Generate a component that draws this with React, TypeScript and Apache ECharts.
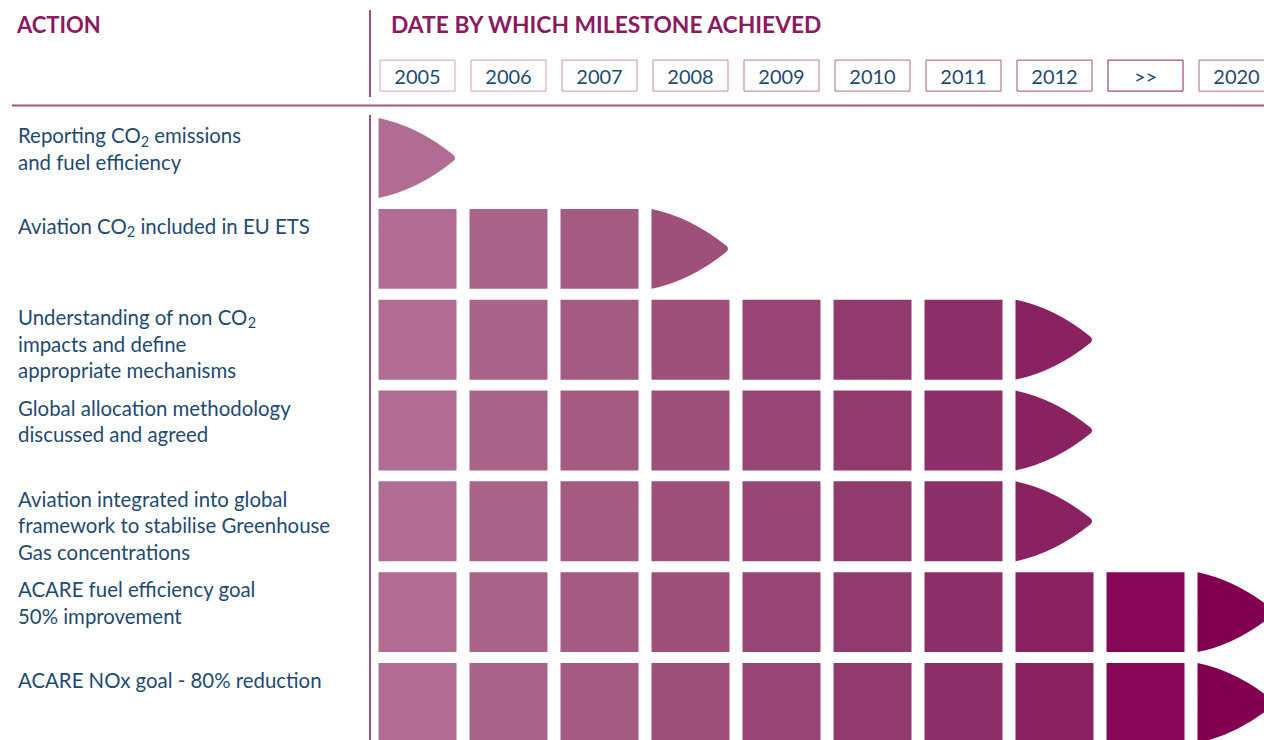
import React, { useEffect, useRef } from 'react';
import * as echarts from 'echarts';

const years = ['2005', '2006', '2007', '2008', '2009', '2010', '2011', '2012', '>>', '2020'];
const actions = [
  'Reporting CO{s|2} emissions\nand fuel efficiency',
  'Aviation CO{s|2} included in EU ETS',
  'Understanding of non CO{s|2}\nimpacts and define\nappropriate mechanisms',
  'Global allocation methodology\ndiscussed and agreed',
  'Aviation integrated into global\nframework to stabilise Greenhouse\nGas concentrations',
  'ACARE fuel efficiency goal\n50% improvement',
  'ACARE NOx goal - 80% reduction',
];
const achievedBy = ['2005', '2008', '2012', '2012', '2012', '2020', '2020'];
const cellColors = ['#B06C93', '#AA6389', '#A55A82', '#9E4F7A', '#974575', '#913A6E', '#8D2F68', '#8A2160', '#860657', '#820050'];
const boxBorders = ['#D4A2C2', '#D09BBD', '#CB93B7', '#C588AF', '#BD7AA6', '#B56B9C', '#AC5C91', '#A34C86', '#8C1C5E', '#B4629A'];

const textColor = '#1E4A74';
const headColor = '#8C1A5F';
const lineColor = '#A4507F';
const FONT = 'Lato';

export default function App() {
  const ref = useRef<HTMLDivElement>(null);
  useEffect(() => {
    const chart = echarts.init(ref.current!, null, { renderer: 'svg' });
    const cells: number[][] = [];
    achievedBy.forEach((y, row) => {
      const end = years.indexOf(y);
      for (let c = 0; c <= end; c++) cells.push([c, row, c === end ? 1 : 0]);
    });
    const option: any = {
      animation: false,
      title: [
        { text: 'ACTION', left: 17, top: 13, padding: 0, textStyle: { fontFamily: FONT, fontWeight: 'bold', fontSize: 22, color: headColor } },
        { text: 'DATE BY WHICH MILESTONE ACHIEVED', left: 391, top: 12.5, padding: 0, textStyle: { fontFamily: FONT, fontWeight: 'bold', fontSize: 22.8, color: headColor } },
      ],
      grid: { left: 372, top: 112.6, width: 910, height: 635.8, outerBoundsMode: 'none', containLabel: false },
      xAxis: {
        type: 'category',
        position: 'top',
        data: years.map((y, i) => ({ value: y, textStyle: { borderColor: boxBorders[i] } })),
        axisLine: { show: false },
        axisTick: { show: false },
        splitLine: { show: false },
        axisLabel: {
          margin: 21.5,
          fontFamily: FONT,
          fontSize: 20,
          color: textColor,
          width: 75,
          height: 31,
          lineHeight: 31,
          align: 'center',
          borderWidth: 1,
          padding: 0,
          interval: 0,
        },
      },
      yAxis: {
        type: 'category',
        inverse: true,
        data: actions,
        show: false,
      },
      graphic: [
        { type: 'line', shape: { x1: 370, y1: 10, x2: 370, y2: 97 }, style: { stroke: lineColor, lineWidth: 2 } },
        { type: 'line', shape: { x1: 12, y1: 105.5, x2: 1264, y2: 105.5 }, style: { stroke: lineColor, lineWidth: 2 } },
        { type: 'line', shape: { x1: 370, y1: 115, x2: 370, y2: 740 }, style: { stroke: lineColor, lineWidth: 2 } },
      ],
      series: [
        {
          type: 'custom',
          clip: false,
          data: cells,
          renderItem: (params: any, api: any) => {
            const col = api.value(0);
            const row = api.value(1);
            const arrow = api.value(2);
            const c = api.coord([col, row]);
            const s = api.size([1, 1]);
            const w = s[0] * 0.857;
            const h = s[1] * 0.88;
            const x0 = c[0] - w / 2;
            const y0 = c[1] - h / 2;
            const fill = cellColors[col];
            if (!arrow) {
              return { type: 'rect', shape: { x: x0, y: y0, width: w, height: h }, style: { fill } };
            }
            const hh = h / 2;
            const d =
              `M${x0},${y0} Q${x0 + 0.5 * w},${y0 + 0.2 * hh} ${x0 + w - 3},${c[1] - 3} ` +
              `Q${x0 + w},${c[1]} ${x0 + w - 3},${c[1] + 3} ` +
              `Q${x0 + 0.5 * w},${y0 + h - 0.2 * hh} ${x0},${y0 + h} Z`;
            return { type: 'path', shape: { pathData: d }, style: { fill } };
          },
        },
        {
          type: 'custom',
          clip: false,
          data: actions.map((_, i) => [0, i]),
          renderItem: (params: any, api: any) => {
            const row = api.value(1);
            const c = api.coord([0, row]);
            const s = api.size([1, 1]);
            return {
              type: 'text',
              x: 18,
              y: c[1] - s[1] / 2 + 9.5,
              style: {
                text: actions[row],
                fill: textColor,
                fontFamily: FONT,
                fontSize: 20.4,
                lineHeight: 26.5,
                align: 'left',
                verticalAlign: 'top',
                rich: {
                  s: { fontFamily: FONT, fontSize: 14.5, fill: textColor, lineHeight: 15, padding: [11.5, 0, 0, 0] },
                },
              },
            };
          },
        },
      ],
    };
    chart.setOption(option);
    return () => chart.dispose();
  }, []);
  return <div ref={ref} style={{ position: 'absolute', left: 0, top: 0, width: 1264, height: 740 }} />;
}
